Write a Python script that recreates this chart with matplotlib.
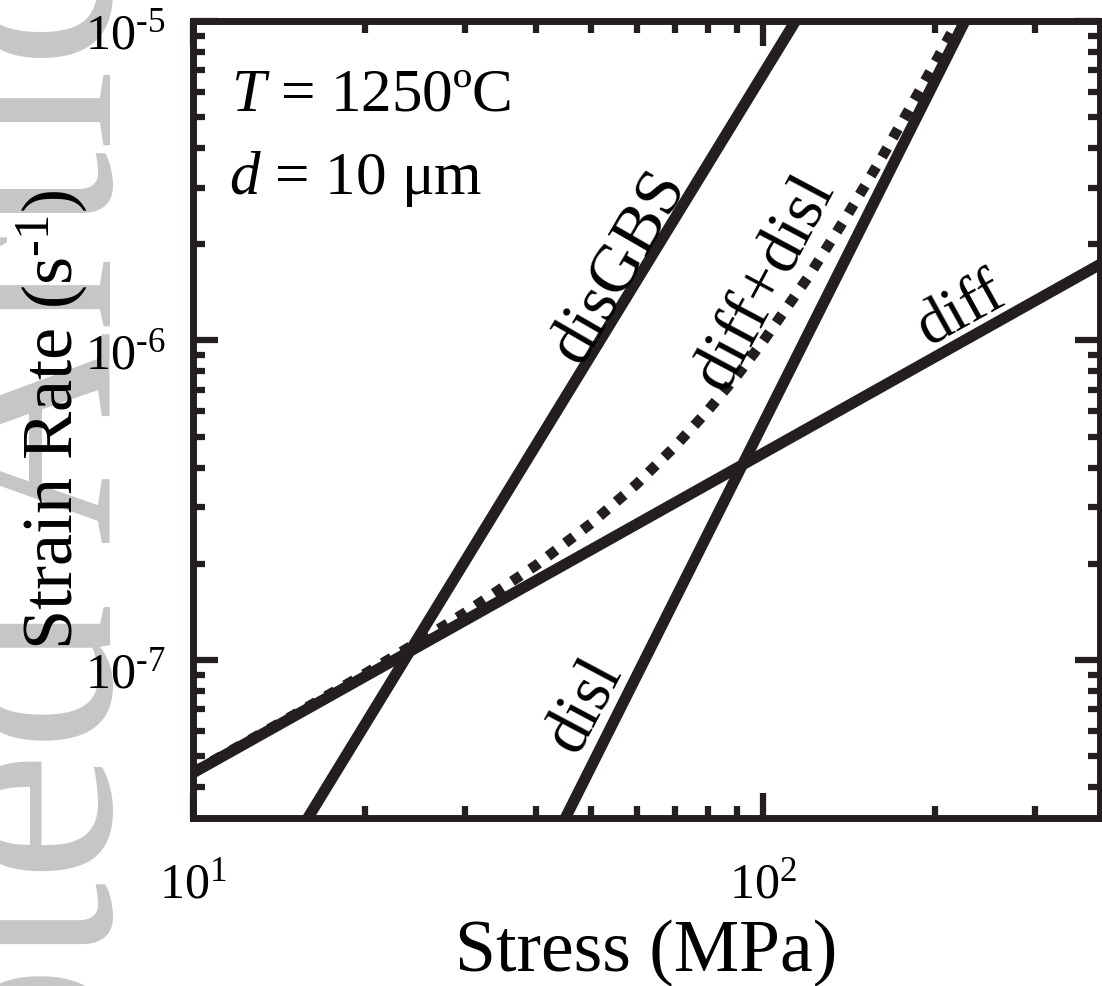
import numpy as np
import matplotlib
matplotlib.use("Agg")
import matplotlib.pyplot as plt
from matplotlib.ticker import LogLocator, NullFormatter
from matplotlib.transforms import ScaledTranslation

# stress (MPa) / strain rate (1/s)
stress_diff = [10, 390]
rate_diff = [4.43e-8, 1.73e-6]

stress_disl = [45.0, 226]
rate_disl = [3.2e-8, 1.0e-5]

stress_gbs = [15.9, 114]
rate_gbs = [3.2e-8, 1.0e-5]

stress_sum = [10, 15, 20, 25, 30, 40, 50, 60, 70, 80, 90, 100, 120, 140, 160, 180, 200, 220]
rate_sum = [4.45e-8, 6.71e-8, 9.04e-8, 1.147e-7, 1.405e-7, 1.98e-7, 2.68e-7, 3.55e-7,
            4.65e-7, 6.03e-7, 7.76e-7, 9.93e-7, 1.58e-6, 2.44e-6, 3.63e-6, 5.25e-6,
            7.36e-6, 1.007e-5]

xticks = [10, 100]
xticklabels = [r"$10^{1}$", r"$10^{2}$"]
yticks = [1e-7, 1e-6, 1e-5]
yticklabels = [r"$10^{\text{-7}}$", r"$10^{\text{-6}}$", r"$10^{\text{-5}}$"]

plt.rcParams['font.family'] = ['Liberation Serif', 'DejaVu Serif']
plt.rcParams['mathtext.fontset'] = 'custom'
plt.rcParams['mathtext.rm'] = 'Liberation Serif'
plt.rcParams['mathtext.it'] = 'Liberation Serif:italic'
plt.rcParams['mathtext.bf'] = 'Liberation Serif:bold'

ink = '#231f20'

fig = plt.figure(figsize=(11.02, 9.86), dpi=100)

# faint watermark on the left edge
fig.text(110 / 1102, (986 - 1719) / 986, "Accepted Article", rotation=90,
         rotation_mode='anchor', ha='left', va='baseline', fontsize=213,
         color='#c6c6c6', zorder=-1)

ax = fig.add_axes([193 / 1102, (986 - 818) / 986, 907 / 1102, 797 / 986])
ax.set_xscale('log')
ax.set_yscale('log')

# dotted sum curve first, solid lines on top
ax.plot(stress_sum, rate_sum, color=ink, lw=7.5, dashes=(1, 1.1), dash_capstyle='butt')
ax.plot(stress_diff, rate_diff, color=ink, lw=8, solid_capstyle='butt')
ax.plot(stress_disl, rate_disl, color=ink, lw=8, solid_capstyle='butt')
ax.plot(stress_gbs, rate_gbs, color=ink, lw=8, solid_capstyle='butt')

ax.set_xlim(10, 390)
ax.set_ylim(3.2e-8, 1e-5)

ax.set_xticks(xticks)
ax.set_xticklabels(xticklabels)
ax.set_yticks(yticks)
ax.set_yticklabels(yticklabels)
ax.xaxis.set_minor_locator(LogLocator(base=10, subs=np.arange(2, 10)))
ax.yaxis.set_minor_locator(LogLocator(base=10, subs=np.arange(2, 10)))
ax.xaxis.set_minor_formatter(NullFormatter())
ax.yaxis.set_minor_formatter(NullFormatter())

ax.tick_params(which='both', direction='in', top=True, right=True, color=ink, width=4.5)
ax.tick_params(which='major', length=18, labelsize=36)
ax.tick_params(which='minor', length=8.5)
ax.tick_params(axis='x', which='major', pad=32)
ax.tick_params(axis='y', which='major', pad=20)

# y tick labels sit a little below their ticks in the original
shift = ScaledTranslation(0, -10 / 100, fig.dpi_scale_trans)
for lab in ax.get_yticklabels():
    lab.set_transform(lab.get_transform() + shift)

for s in ax.spines.values():
    s.set_linewidth(5)
    s.set_color(ink)

ax.set_xlabel("Stress (MPa)", fontsize=53)
ax.set_ylabel(r"Strain Rate (s$^{\text{-1}}$)", fontsize=52)
ax.xaxis.set_label_coords(0.5, -0.128)
ax.yaxis.set_label_coords(-0.115, 0.5)

# conditions
ax.text(0.042, 0.888, r"$T$ = 1250ºC", transform=ax.transAxes, fontsize=44,
        ha='left', va='baseline')
ax.text(0.040, 0.783, r"$d$ = 10 μm", transform=ax.transAxes, fontsize=44,
        ha='left', va='baseline')

# curve labels
ax.text(56.0, 1.70e-6, "disGBS", fontsize=49, rotation=60, ha='center', va='center',
        rotation_mode='anchor')
ax.text(100.8, 1.51e-6, "diff+disl", fontsize=49, rotation=62, ha='center', va='center',
        rotation_mode='anchor')
ax.text(223, 1.24e-6, "diff", fontsize=46, rotation=29, ha='center', va='center',
        rotation_mode='anchor')
ax.text(48.8, 7.2e-8, "disl", fontsize=48, rotation=62, ha='center', va='center',
        rotation_mode='anchor')

fig.savefig("out.png", dpi=100)
